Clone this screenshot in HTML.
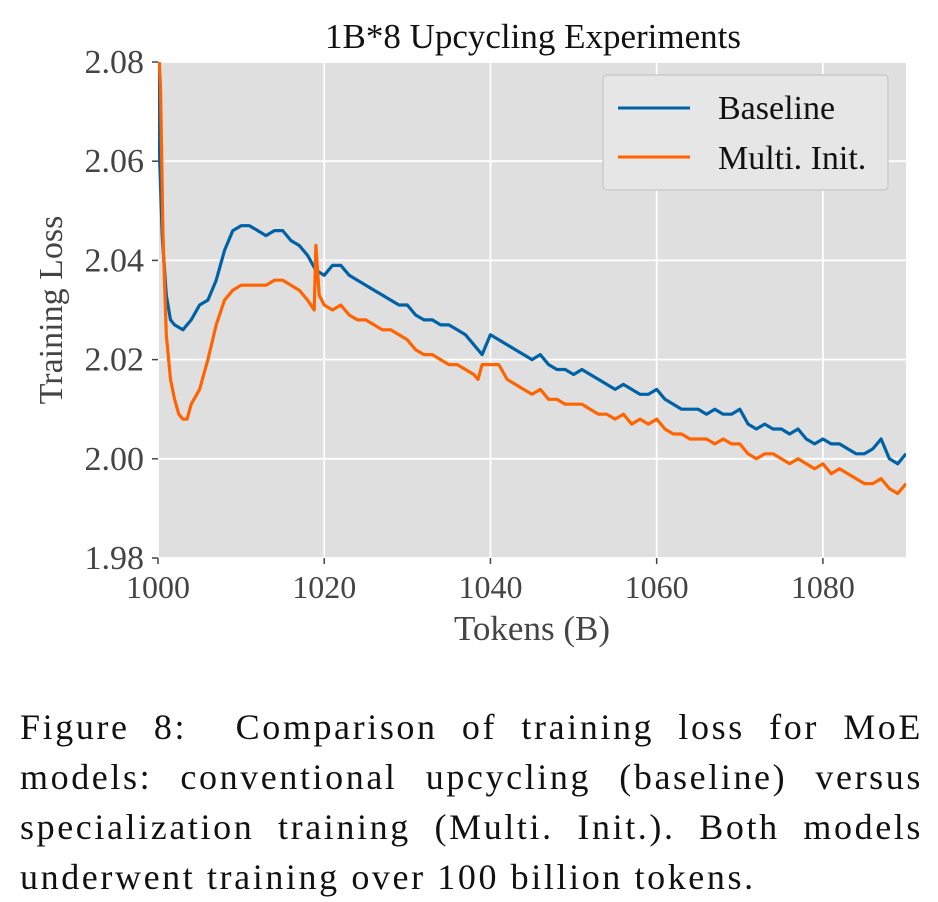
<!DOCTYPE html>
<html><head><meta charset="utf-8"><style>
body{margin:0;background:#fff;width:938px;height:902px;overflow:hidden;font-family:"Liberation Serif",serif;}
#cap{position:absolute;left:20px;top:702px;width:903px;font-size:36px;line-height:50px;color:#111;letter-spacing:2.6px}
#cap div{text-align:justify;text-align-last:justify;white-space:nowrap;}
</style></head><body>
<svg id="chart" width="938" height="700" style="position:absolute;left:0;top:0" font-family="Liberation Serif, serif">
<defs><clipPath id="clip"><rect x="158" y="62" width="748" height="496"/></clipPath></defs>
<rect x="158" y="62" width="748" height="496" fill="#dfdfdf"/>
<g id="grid"></g><g id="ticks"></g>
<g id="lines" clip-path="url(#clip)"></g>
<text x="533" y="48" font-size="35" text-anchor="middle" fill="#111">1B*8 Upcycling Experiments</text>
<text x="532" y="640" font-size="35" text-anchor="middle" fill="#444">Tokens (B)</text>
<text transform="translate(62,310) rotate(-90)" font-size="34" text-anchor="middle" fill="#444">Training Loss</text>
<g>
<rect x="603" y="75" width="285" height="115" rx="4" fill="#e6e6e6" stroke="#ccc" stroke-width="1.5"/>
<line x1="618" y1="108" x2="690" y2="108" stroke="#0062a6" stroke-width="3"/>
<text x="718" y="119" font-size="34" fill="#111">Baseline</text>
<line x1="618" y1="157" x2="690" y2="157" stroke="#ff6400" stroke-width="3"/>
<text x="718" y="169" font-size="34" fill="#111">Multi. Init.</text>
</g>
</svg>
<div id="cap">
<div>Figure 8: &nbsp;Comparison of training loss for MoE</div>
<div>models: conventional upcycling (baseline) versus</div>
<div>specialization training (Multi. Init.). Both models</div>
<div style="text-align-last:left">underwent training over 100 billion tokens.</div>
</div>
<script>
const xTicks=[1000,1020,1040,1060,1080];
const yTicks=[1.98,2.00,2.02,2.04,2.06,2.08];
const baseX=[1000,1000.2,1000.5,1001,1001.5,1002,1003,1004,1005,1006,1007,1008,1009,1010,1011,1012,1013,1014,1015,1016,1017,1018,1019,1020,1021,1022,1023,1024,1025,1026,1027,1028,1029,1030,1031,1032,1033,1034,1035,1036,1037,1038,1039,1040,1041,1042,1043,1044,1045,1046,1047,1048,1049,1050,1051,1052,1053,1054,1055,1056,1057,1058,1059,1060,1061,1062,1063,1064,1065,1066,1067,1068,1069,1070,1071,1072,1073,1074,1075,1076,1077,1078,1079,1080,1081,1082,1083,1084,1085,1086,1087,1088,1089,1090];
const baseY=[2.085,2.06,2.045,2.033,2.028,2.027,2.026,2.028,2.031,2.032,2.036,2.042,2.046,2.047,2.047,2.046,2.045,2.046,2.046,2.044,2.043,2.041,2.038,2.037,2.039,2.039,2.037,2.036,2.035,2.034,2.033,2.032,2.031,2.031,2.029,2.028,2.028,2.027,2.027,2.026,2.025,2.023,2.021,2.025,2.024,2.023,2.022,2.021,2.020,2.021,2.019,2.018,2.018,2.017,2.018,2.017,2.016,2.015,2.014,2.015,2.014,2.013,2.013,2.014,2.012,2.011,2.010,2.010,2.010,2.009,2.010,2.009,2.009,2.010,2.007,2.006,2.007,2.006,2.006,2.005,2.006,2.004,2.003,2.004,2.003,2.003,2.002,2.001,2.001,2.002,2.004,2.000,1.999,2.001];
const multiX=[1000,1000.3,1000.6,1001,1001.5,1002,1002.5,1003,1003.5,1004,1005,1006,1007,1008,1009,1010,1011,1012,1013,1014,1015,1016,1017,1018,1018.8,1019,1019.4,1020,1021,1022,1023,1024,1025,1026,1027,1028,1029,1030,1031,1032,1033,1034,1035,1036,1037,1038,1038.5,1039,1040,1041,1042,1043,1044,1045,1046,1047,1048,1049,1050,1051,1052,1053,1054,1055,1056,1057,1058,1059,1060,1061,1062,1063,1064,1065,1066,1067,1068,1069,1070,1071,1072,1073,1074,1075,1076,1077,1078,1079,1080,1081,1082,1083,1084,1085,1086,1087,1088,1089,1090];
const multiY=[2.085,2.075,2.045,2.025,2.016,2.012,2.009,2.008,2.008,2.011,2.014,2.020,2.027,2.032,2.034,2.035,2.035,2.035,2.035,2.036,2.036,2.035,2.034,2.032,2.030,2.043,2.033,2.031,2.030,2.031,2.029,2.028,2.028,2.027,2.026,2.026,2.025,2.024,2.022,2.021,2.021,2.020,2.019,2.019,2.018,2.017,2.016,2.019,2.019,2.019,2.016,2.015,2.014,2.013,2.014,2.012,2.012,2.011,2.011,2.011,2.010,2.009,2.009,2.008,2.009,2.007,2.008,2.007,2.008,2.006,2.005,2.005,2.004,2.004,2.004,2.003,2.004,2.003,2.003,2.001,2.000,2.001,2.001,2.000,1.999,2.000,1.999,1.998,1.999,1.997,1.998,1.997,1.996,1.995,1.995,1.996,1.994,1.993,1.995];
const NS='http://www.w3.org/2000/svg';
const sx=v=>158+(v-1000)*(906-158)/90;
const sy=v=>558-(v-1.98)*496/0.1;
function mk(tag,attrs,parent){const e=document.createElementNS(NS,tag);for(const k in attrs)e.setAttribute(k,attrs[k]);document.getElementById(parent).appendChild(e);return e;}
xTicks.forEach(t=>{
  const g=mk('line',{x1:sx(t),x2:sx(t),y1:62,y2:558,stroke:'#fff','stroke-width':1.8},'grid');
  
  
  const tk=mk('line',{x1:sx(t),x2:sx(t),y1:558,y2:564,stroke:'#444','stroke-width':1.5},'ticks');
  
  
  const l=mk('text',{x:sx(t),y:598,'font-size':32,'text-anchor':'middle',fill:'#444'},'ticks');
  l.textContent=t;
  
  
});
yTicks.forEach(t=>{
  const g=mk('line',{x1:158,x2:906,y1:sy(t),y2:sy(t),stroke:'#fff','stroke-width':1.8},'grid');
  
  
  const tk=mk('line',{x1:152,x2:158,y1:sy(t),y2:sy(t),stroke:'#444','stroke-width':1.5},'ticks');
  
  
  const l=mk('text',{x:144,y:sy(t)+11,'font-size':34,'text-anchor':'end',fill:'#444'},'ticks');
  l.textContent=t.toFixed(2);
  
  
});
function line(xs,ys,color,name){
  const d=xs.map((x,i)=>(i?'L':'M')+sx(x).toFixed(1)+','+sy(ys[i]).toFixed(1)).join('');
  const p=mk('path',{d:d,fill:'none',stroke:color,'stroke-width':3.2,'stroke-linejoin':'round'},'lines');
  
  
}
line(baseX,baseY,'#0062a6','baseline-line');
line(multiX,multiY,'#ff6400','multi-init-line');
</script>
</body></html>
